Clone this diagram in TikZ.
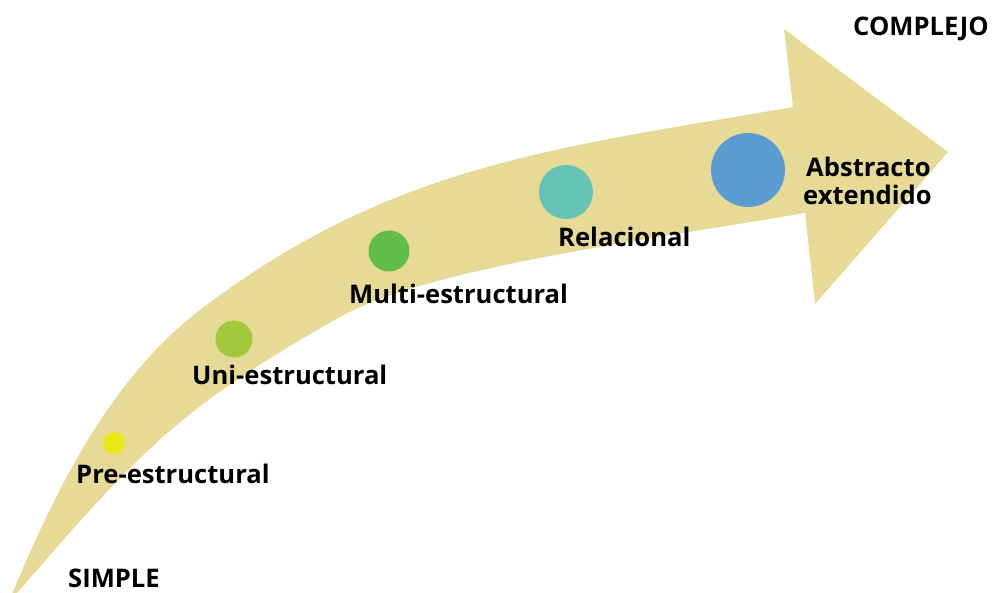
\documentclass[tikz,border=0pt]{standalone}
\usepackage{fontspec}
\setmainfont{Open Sans}
\usepackage{tikz}

\definecolor{arrowtan}{RGB}{231,217,150}
\definecolor{dotpre}{RGB}{234,232,22}
\definecolor{dotuni}{RGB}{160,202,60}
\definecolor{dotmulti}{RGB}{98,188,72}
\definecolor{dotrel}{RGB}{100,196,180}
\definecolor{dotabs}{RGB}{90,155,210}

\tikzset{
  level/.style={circle,inner sep=0pt,minimum size=#1},
  lbl/.style={anchor=base west,inner sep=0pt,font=\fontsize{25.6}{29}\selectfont\bfseries}
}

\begin{document}
\begin{tikzpicture}[x=1pt,y=-1pt]
\useasboundingbox (0,0) rectangle (1004,593);
% curved arrow: upper edge, head, lower edge back to the tail
\fill[arrowtan] (12,594) .. controls (56,489) and (110,379) .. (200,310)
  .. controls (391,164) and (557,148) .. (793,107)
  -- (784,29) -- (948,152) -- (815,304) -- (805,213)
  .. controls (647,240) and (427,268) .. (340,317)
  .. controls (175,410) and (139,453) .. (16,594)
  -- cycle;
% levels
\node[level=22pt,fill=dotpre] (pre) at (114,443) {};
\node[level=37pt,fill=dotuni] (uni) at (234,339) {};
\node[level=41pt,fill=dotmulti] (multi) at (389,251) {};
\node[level=54pt,fill=dotrel] (rel) at (566,192) {};
\node[level=74pt,fill=dotabs] (abs) at (748,170) {};
\node[lbl] (prelbl) at (76,483) {Pre-estructural};
\node[lbl] (unilbl) at (192,385) {Uni-estructural};
\node[lbl] (multilbl) at (349,304) {Multi-estructural};
\node[lbl] (rellbl) at (558,247) {Relacional};
\node[lbl] (abslbl) at (806,177) {Abstracto};
\node[lbl] (extlbl) at (803,205) {extendido};
\node[lbl] (complejo) at (853,36) {COMPLEJO};
\node[lbl] (simple) at (68,587) {SIMPLE};
\end{tikzpicture}
\end{document}
